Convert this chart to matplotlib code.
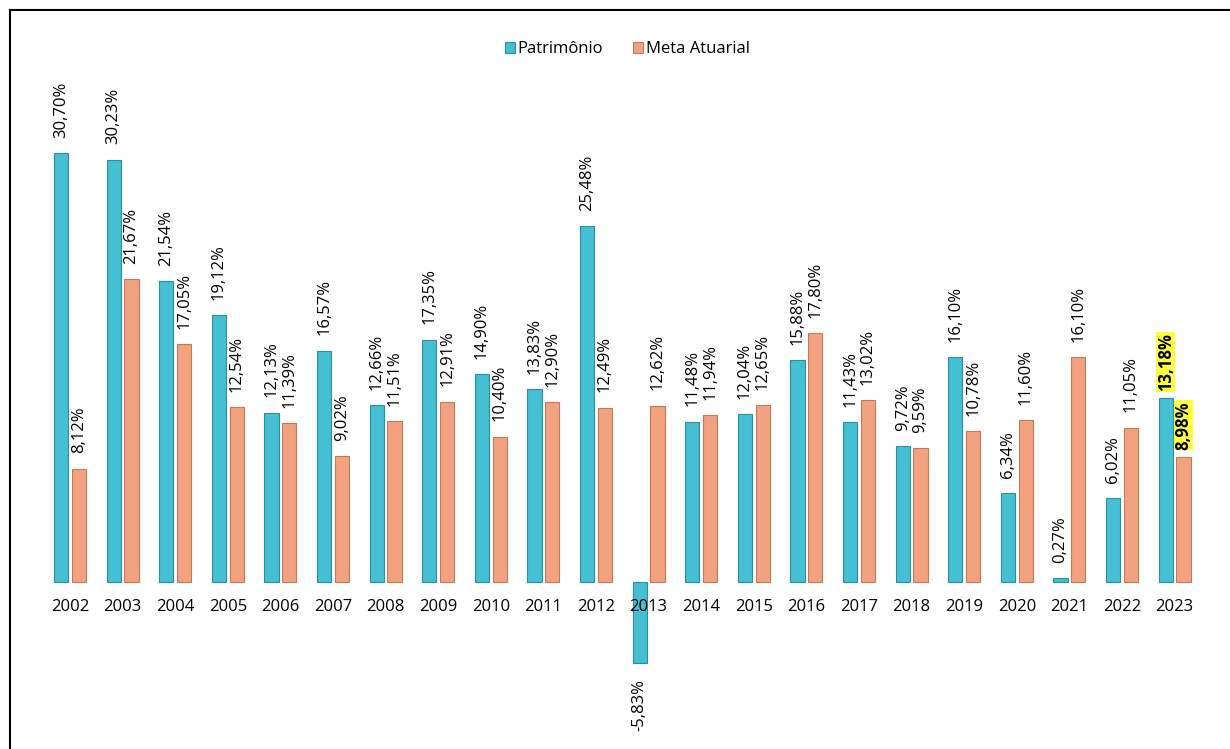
import matplotlib
matplotlib.use('Agg')
import matplotlib.pyplot as plt
import matplotlib as mpl
import numpy as np

## chart data
years = ['2002', '2003', '2004', '2005', '2006', '2007', '2008', '2009', '2010', '2011', '2012',
         '2013', '2014', '2015', '2016', '2017', '2018', '2019', '2020', '2021', '2022', '2023']
patrimonio = [30.70, 30.23, 21.54, 19.12, 12.13, 16.57, 12.66, 17.35, 14.90, 13.83, 25.48,
              -5.83, 11.48, 12.04, 15.88, 11.43, 9.72, 16.10, 6.34, 0.27, 6.02, 13.18]
meta = [8.12, 21.67, 17.05, 12.54, 11.39, 9.02, 11.51, 12.91, 10.40, 12.90, 12.49,
        12.62, 11.94, 12.65, 17.80, 13.02, 9.59, 10.78, 11.60, 16.10, 11.05, 8.98]
series_labels = ['Patrimônio', 'Meta Atuarial']

cyan = '#45bfd3'
cyan_edge = '#2a8fa3'
orange = '#f2a27e'
orange_edge = '#c47a5a'
highlight = '#ffff3c'

mpl.rcParams |= {
    'font.family': ['Open Sans', 'DejaVu Sans'],
    'font.size': 12,
}

fig = plt.figure(figsize=(12.3, 7.49), dpi=100)
## axes fills the figure; limits chosen so zero sits near the original baseline
ax = fig.add_axes([0, 0, 1, 1])
px_per_unit = 13.97
ax.set_ylim(-(749 - 582) / px_per_unit, 582 / px_per_unit)
ax.set_xlim(-70 / 52.6, (1230 - 70) / 52.6)

x = np.arange(len(years))
w = 0.27
off = 0.17
b1 = ax.bar(x - off, patrimonio, w, color=cyan, edgecolor=cyan_edge, linewidth=0.8,
            label=series_labels[0])
b2 = ax.bar(x + off, meta, w, color=orange, edgecolor=orange_edge, linewidth=0.8,
            label=series_labels[1])

## value labels, rotated
def fmt(v):
    return f'{v:.2f}%'.replace('.', ',')

last = len(years) - 1
for i in range(len(years)):
    for xs, vals in ((x - off, patrimonio), (x + off, meta)):
        v = vals[i]
        if i == last:
            ax.annotate(fmt(v), (xs[i], max(v, 0)), xytext=(0, 5), textcoords='offset points',
                        rotation=90, ha='center', va='bottom', fontsize=12, fontweight='bold',
                        bbox=dict(boxstyle='square,pad=0.05', fc=highlight, ec='none'))
        elif v >= 0:
            ax.annotate(fmt(v), (xs[i], v), xytext=(0, 11), textcoords='offset points',
                        rotation=90, ha='center', va='bottom', fontsize=12)
        else:
            ax.annotate(fmt(v), (xs[i], v), xytext=(0, -11), textcoords='offset points',
                        rotation=90, ha='center', va='top', fontsize=12)

## year labels under the baseline
for i, yr in enumerate(years):
    ax.annotate(yr, (x[i], 0), xytext=(0, -18), textcoords='offset points',
                ha='center', va='center', fontsize=12)

ax.axis('off')

leg = ax.legend(loc='upper center', bbox_to_anchor=(0.51, 0.965), ncol=2, frameon=False,
                fontsize=12, handlelength=0.6, handleheight=0.6, handletextpad=0.15,
                columnspacing=1.8)

## document frame
fig.add_artist(mpl.lines.Line2D([10 / 1230, 10 / 1230], [0, 1 - 10 / 749],
                                color='black', lw=1.5, transform=fig.transFigure))
fig.add_artist(mpl.lines.Line2D([10 / 1230, 1], [1 - 10 / 749, 1 - 10 / 749],
                                color='black', lw=1.5, transform=fig.transFigure))

plt.savefig('out.png', dpi=100)
